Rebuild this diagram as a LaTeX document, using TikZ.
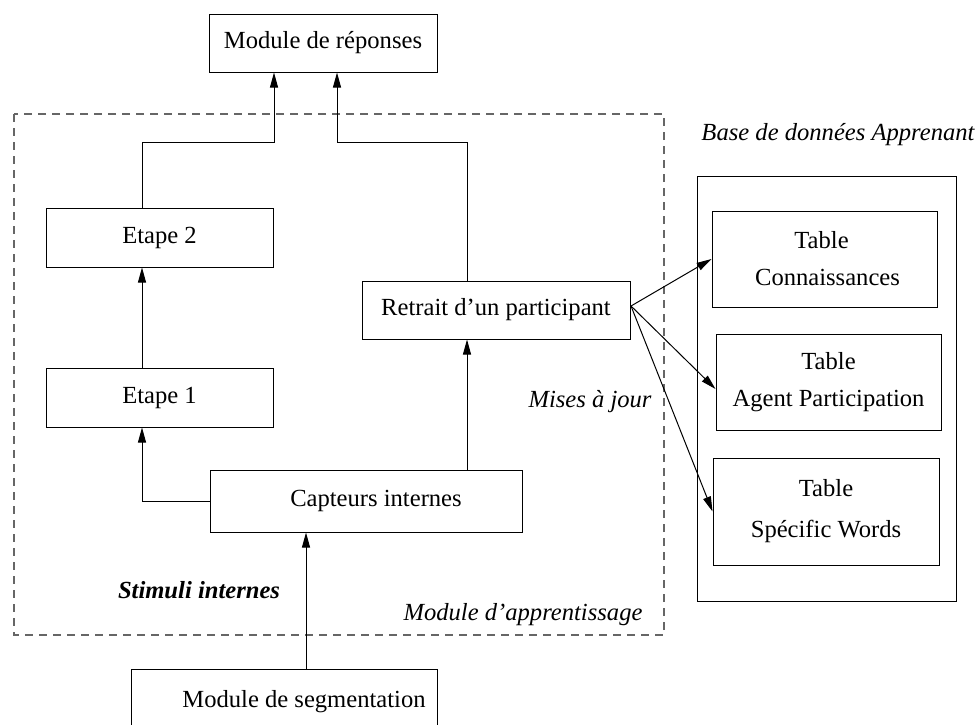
\documentclass[tikz,border=0pt]{standalone}
\usepackage{fontspec}
\setmainfont{Liberation Serif}
\usetikzlibrary{arrows.meta}
\begin{document}
\begin{tikzpicture}[x=0.5pt,y=-0.5pt,
  every node/.style={font=\fontsize{12.3pt}{18.5pt}\selectfont, inner sep=0pt},
  box/.style={draw, line width=0.5pt, align=center},
  arr/.style={draw, line width=0.5pt, -{Triangle[length=7.5pt,width=4pt]}},
  lbl/.style={font=\fontsize{12.3pt}{15pt}\selectfont\itshape},
  frame/.style={draw, line width=0.5pt},
  dashframe/.style={draw=black!60, line width=0.6pt, dash pattern=on 4pt off 3pt}]
\useasboundingbox (0,0) rectangle (977,724);
% frames
\draw[dashframe] (14,114) rectangle (664,635);
\draw[frame] (697,176) rectangle (956,601);
% nodes
\node[box, minimum width=114pt, minimum height=29pt] (resp) at (323,43) {Module de réponses};
\node[box, minimum width=113.5pt, minimum height=29.5pt] (et2) at (159.5,237.5) {Etape 2};
\node[box, minimum width=113.5pt, minimum height=29.5pt] (et1) at (159.5,397.5) {Etape 1};
\node[box, minimum width=156pt, minimum height=31pt] (capt) at (366,501) {\hspace*{10pt}Capteurs internes};
\node[box, minimum width=134pt, minimum height=29pt] (retr) at (496,310) {Retrait d'un participant};
\node[box, minimum width=112.5pt, minimum height=48pt] (conn) at (824.5,259) {\hspace*{-3pt}Table\\\hspace*{3pt}Connaissances};
\node[box, minimum width=112.5pt, minimum height=48pt] (agent) at (828.5,382) {Table\\Agent Participation};
\node[box, minimum width=113pt, minimum height=53.5pt] (spec) at (826,511.5) {Table\\[2pt]Spécific Words};
\node (seg) at (304,702) {Module de segmentation};
\draw[frame] (131,730) -- (131,669) -- (437,669) -- (437,730);
% labels
\node[lbl] (maj) at (590,402) {Mises à jour};
\node[lbl, font=\fontsize{12.3pt}{15pt}\selectfont\bfseries\itshape] (stim) at (199,590) {Stimuli internes};
\node[lbl] (mapp) at (523,615) {Module d'apprentissage};
\node[lbl] (bdd) at (838,135) {Base de données Apprenant};
% helper coordinates
\coordinate (xa) at (142,0);
\coordinate (xc) at (467,0);
\coordinate (ja) at (274,142);
\coordinate (jb) at (337,142);
\coordinate (segtop) at (306,669);
\coordinate (rout) at (631,306);
% connectors
\draw[arr] (et2.north -| xa) |- (ja) -- (ja |- resp.south);
\draw[arr] (retr.north -| xc) |- (jb) -- (jb |- resp.south);
\draw[arr] (et1.north -| xa) -- (et2.south -| xa);
\draw[arr] (capt.west) -| (et1.south -| xa);
\draw[arr] (capt.north -| xc) -- (retr.south -| xc);
\draw[arr] (segtop) -- (segtop |- capt.south);
\draw[arr] (rout) -- (conn.west);
\draw[arr] (rout) -- (agent.west |- 0,389);
\draw[arr] (rout) -- (spec.west);
\end{tikzpicture}
\end{document}
